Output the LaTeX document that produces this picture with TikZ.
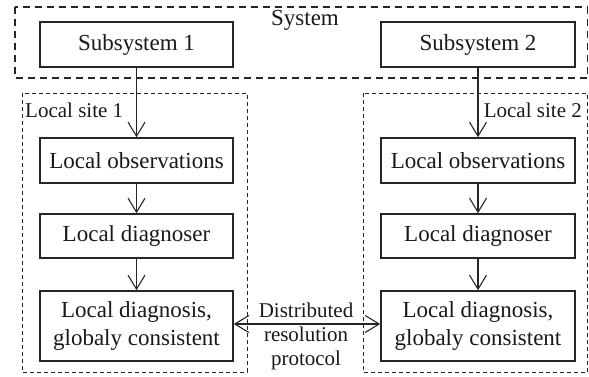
\documentclass[tikz,border=0pt]{standalone}
\usepackage{fontspec}
\setmainfont{Liberation Serif}
\usetikzlibrary{arrows.meta}
\tikzset{barb/.tip={Straight Barb[length=14pt,width=17pt,line width=1.1pt]}}
\begin{document}
\begin{tikzpicture}[x=1pt,y=-1pt,
  block/.style={draw=black!85, line width=1.6pt, rectangle, align=center,
    inner sep=0pt, font=\fontsize{23}{27.5}\selectfont, text=black!90},
  sysframe/.style={draw=black!85, line width=1.5pt, dash pattern=on 7pt off 5pt},
  siteframe/.style={draw=black!85, line width=0.9pt, dash pattern=on 4pt off 3pt},
  flow/.style={draw=black!85, line width=1.1pt, -barb},
  lbl/.style={inner sep=0pt, font=\fontsize{21}{24}\selectfont, text=black!90}
]
\useasboundingbox (0,0) rectangle (589,376);

% enclosing frames
\draw[sysframe] (15,7) rectangle (587.5,78);
\draw[siteframe] (22,93) rectangle (247,372);
\draw[siteframe] (363,93) rectangle (587.5,372);

\node[lbl, font=\fontsize{23}{27.5}\selectfont] (systxt) at (305,20) {System};
\node[lbl, anchor=west] (site1txt) at (25,110) {Local site 1};
\node[lbl, anchor=east] (site2txt) at (582,110) {Local site 2};

% left site
\node[block, minimum width=193pt, minimum height=45pt] (sub1) at (136.5,44.5) {Subsystem 1};
\node[block, minimum width=193pt, minimum height=45pt] (obs1) at (136.5,160.5) {Local observations};
\node[block, minimum width=193pt, minimum height=44pt] (dgr1) at (136.5,236) {Local diagnoser};
\node[block, minimum width=193pt, minimum height=70pt] (dgs1) at (136.5,326) {Local diagnosis,\\globaly consistent};

% right site
\node[block, minimum width=194pt, minimum height=45pt] (sub2) at (478,44.5) {Subsystem 2};
\node[block, minimum width=194pt, minimum height=45pt] (obs2) at (478,160.5) {Local observations};
\node[block, minimum width=194pt, minimum height=44pt] (dgr2) at (478,236) {Local diagnoser};
\node[block, minimum width=194pt, minimum height=70pt] (dgs2) at (478,326) {Local diagnosis,\\globaly consistent};

% vertical flows
\draw[flow] (sub1.south) -- (obs1.north);
\draw[flow] (obs1.south) -- (dgr1.north);
\draw[flow] (dgr1.south) -- (dgs1.north);
\draw[flow] (sub2.south) -- (obs2.north);
\draw[flow] (obs2.south) -- (dgr2.north);
\draw[flow] (dgr2.south) -- (dgs2.north);

% resolution protocol between the sites
\node[lbl, align=center] (proto) at (306,336) {Distributed\\resolution\\protocol};
\coordinate (pl) at ([yshift=2pt]dgs1.east);
\coordinate (pr) at ([yshift=2pt]dgs2.west);
\draw[draw=black!85, line width=1.1pt, barb-barb] (pl) -- (pr);
\end{tikzpicture}
\end{document}
